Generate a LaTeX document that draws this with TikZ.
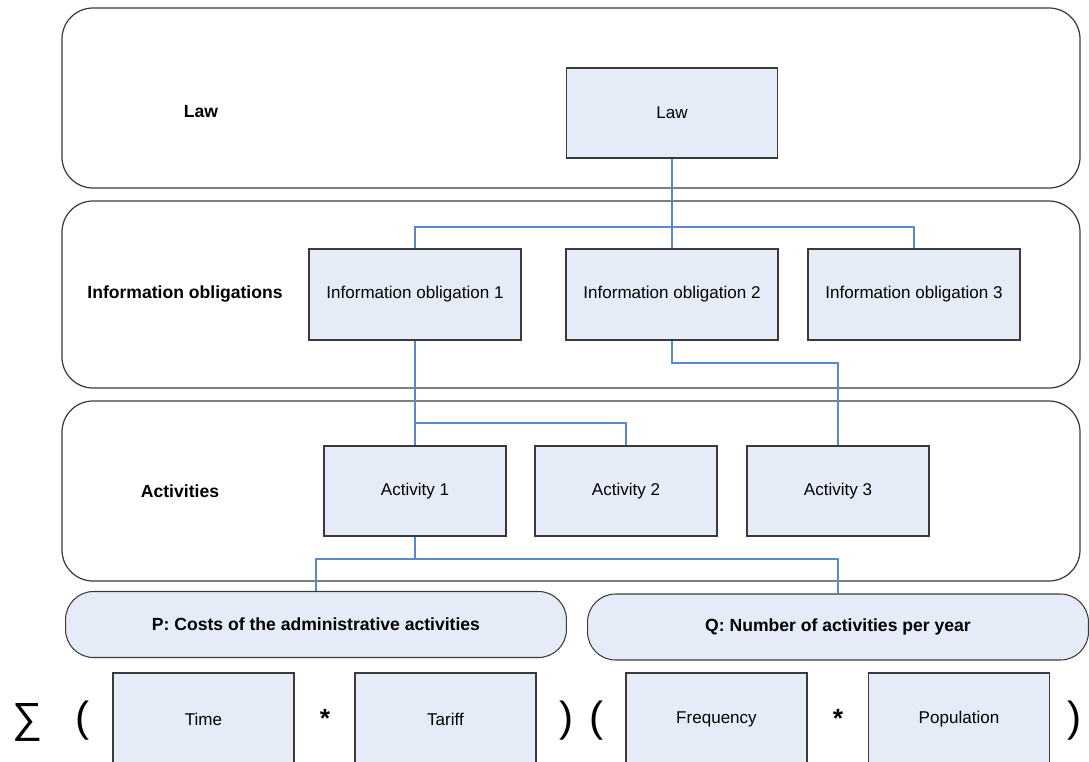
\documentclass[tikz,border=0pt]{standalone}
\usepackage{fontspec}
\setmainfont{Liberation Sans}
\usetikzlibrary{positioning, calc}

\definecolor{boxfill}{HTML}{E6ECF7}
\definecolor{linkblue}{HTML}{5B88C8}
\definecolor{edgegray}{HTML}{3A3A3A}

\begin{document}
\begin{tikzpicture}[
  x=0.02cm, y=-0.02cm,
  font=\fontsize{9.7}{12}\selectfont,
  lane/.style={draw=edgegray, line width=0.7pt, rounded corners=0.62cm},
  lanetext/.style={font=\fontsize{10}{12}\selectfont\bfseries},
  box/.style={draw=edgegray, line width=0.7pt, fill=boxfill, minimum height=1.8cm},
  pill/.style={draw=edgegray, line width=0.6pt, fill=boxfill, rounded corners=0.56cm,
               minimum width=10.02cm, minimum height=1.32cm,
               font=\fontsize{10}{12}\selectfont\bfseries},
  link/.style={draw=linkblue, line width=0.6pt},
  sym/.style={font=\fontsize{24}{28}\selectfont, inner sep=0pt},
  star/.style={font=\fontsize{15}{18}\selectfont\bfseries, inner sep=0pt},
]
  \useasboundingbox (0,0) rectangle (1089,761);

  % --- swim lanes ---
  \draw[lane] (62,8) rectangle (1080,188);
  \draw[lane] (62,201) rectangle (1080,388);
  \draw[lane] (62,401) rectangle (1080,581);

  % --- lane titles ---
  \node[lanetext] (tLaw) at (201,112) {Law};
  \node[lanetext] (tInfo) at (185,294) {Information obligations};
  \node[lanetext] (tAct) at (180,491) {Activities};

  % --- law ---
  \node[box, minimum width=4.22cm] (law) at (672,113) {Law};

  % --- information obligations ---
  \node[box, minimum width=4.24cm, minimum height=1.82cm] (io1) at (415,294.5) {Information obligation 1};
  \node[box, minimum width=4.24cm, minimum height=1.82cm] (io2) at (672,294.5) {Information obligation 2};
  \node[box, minimum width=4.24cm, minimum height=1.82cm] (io3) at (914,294.5) {Information obligation 3};

  % --- activities ---
  \node[box, minimum width=3.64cm] (act1) at (415,491) {Activity 1};
  \node[box, minimum width=3.64cm] (act2) at (626,491) {Activity 2};
  \node[box, minimum width=3.64cm] (act3) at (838,491) {Activity 3};

  % --- P and Q ---
  \node[pill] (costP) at (316,624.5) {P: Costs of the administrative activities};
  \node[pill] (numQ) at (838,627) {Q: Number of activities per year};

  % --- formula ---
  \node[box, minimum width=3.62cm, minimum height=1.84cm] (time) at (203.5,719) {Time};
  \node[box, minimum width=3.62cm, minimum height=1.84cm] (tariff) at (445.5,719) {Tariff};
  \node[box, minimum width=3.62cm, minimum height=1.84cm] (freq) at (716.5,719) {Frequency};
  \node[box, minimum width=3.62cm, minimum height=1.84cm] (popu) at (959,719) {Population};

  \node[sym] (sumSign) at (28,722) {∑};
  \node[sym] (lpA) at (83,721) {(};
  \node[star] (mulA) at (325,718) {*};
  \node[sym] (rpA) at (567,721) {)};
  \node[sym] (lpB) at (597,721) {(};
  \node[star] (mulB) at (838,718) {*};
  \node[sym] (rpB) at (1075,721) {)};

  % --- connectors ---
  \coordinate (jLaw) at (672,227);
  \draw[link] (law.south) -- (jLaw) -- (io2.north);
  \draw[link] (io1.north) |- (jLaw) -| (io3.north);

  \coordinate (jIoA) at (415,423);
  \draw[link] (io1.south) -- (act1.north);
  \draw[link] (jIoA) -| (act2.north);

  \coordinate (jIoB) at (672,363);
  \draw[link] (io2.south) -- (jIoB) -| (act3.north);

  \coordinate (jAct) at (415,559);
  \draw[link] (act1.south) -- (jAct);
  \draw[link] (costP.north) |- (jAct) -| (numQ.north);
\end{tikzpicture}
\end{document}
